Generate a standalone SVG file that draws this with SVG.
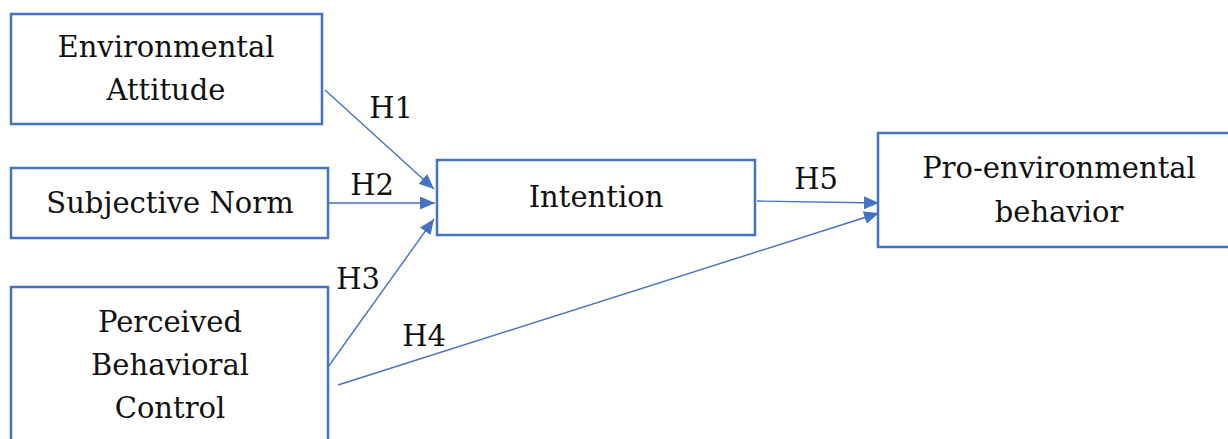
<svg xmlns="http://www.w3.org/2000/svg" width="1228" height="439" viewBox="0 0 1228 439">
<style>
.box{fill:#fff;stroke:#4472C4;stroke-width:2.5}
.t{font-family:"DejaVu Serif","Liberation Serif",serif;font-size:29px;fill:#111;text-anchor:middle}
.c{stroke:#4472C4;stroke-width:1.4;fill:none;marker-end:url(#ah)}
</style>
<defs>
<marker id="ah" viewBox="0 0 10 10" refX="10" refY="5" markerWidth="15" markerHeight="13" orient="auto" markerUnits="userSpaceOnUse" preserveAspectRatio="none">
<path d="M0,0 L10,5 L0,10 z" fill="#4472C4"/>
</marker>
</defs>
<rect width="1228" height="439" fill="#fff"/>
<g id="connectors">
<line class="c" x1="325" y1="90" x2="434" y2="189"/>
<line class="c" x1="328" y1="203" x2="435" y2="203"/>
<line class="c" x1="328" y1="367" x2="434" y2="219"/>
<line class="c" x1="338" y1="385" x2="879" y2="213"/>
<line class="c" x1="757" y1="201" x2="879" y2="203"/>
<text class="t" x="391" y="118">H1</text>
<text class="t" x="372" y="195">H2</text>
<text class="t" x="358" y="289">H3</text>
<text class="t" x="424" y="346">H4</text>
<text class="t" x="816" y="189">H5</text>
</g>
<g id="ea"><rect class="box" x="11" y="14" width="311" height="110"/><text class="t" x="166" y="57">Environmental</text><text class="t" x="166" y="100">Attitude</text></g>
<g id="sn"><rect class="box" x="11" y="168" width="317" height="70"/><text class="t" x="170" y="213">Subjective Norm</text></g>
<g id="pbc"><rect class="box" x="11" y="287" width="317" height="160"/><text class="t" x="170" y="332">Perceived</text><text class="t" x="170" y="375">Behavioral</text><text class="t" x="170" y="418">Control</text></g>
<g id="int"><rect class="box" x="437" y="160" width="318" height="75"/><text class="t" x="596" y="207">Intention</text></g>
<g id="peb"><rect class="box" x="878" y="133" width="360" height="114"/><text class="t" x="1059" y="178">Pro-environmental</text><text class="t" x="1059" y="222">behavior</text></g>
</svg>
